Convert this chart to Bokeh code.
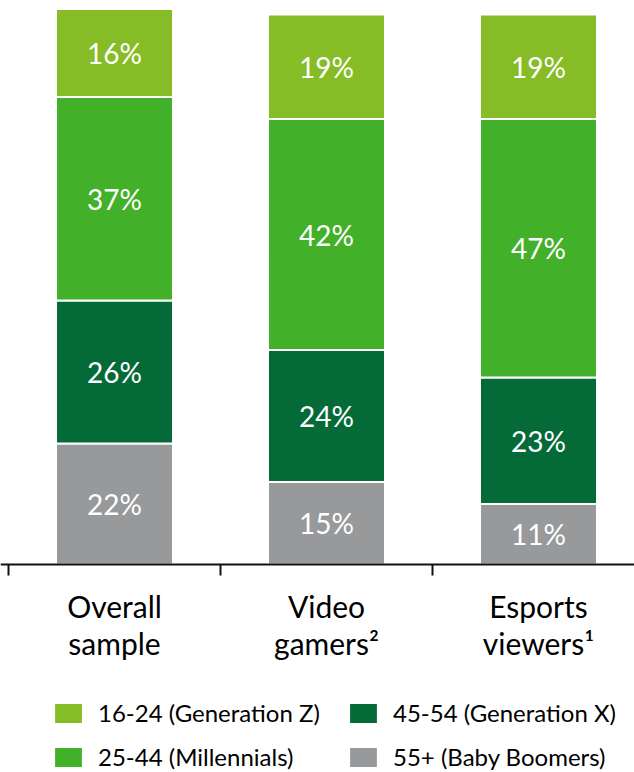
from bokeh.plotting import figure
from bokeh.models import ColumnDataSource, Range1d, FixedTicker, Legend, LegendItem, LinearAxis
from bokeh.embed import file_html
from bokeh.resources import INLINE
from bokeh.core.properties import value

# ---- data ----
categories = ["Overall\nsample", "Video\ngamers²", "Esports\nviewers¹"]
genz = [16, 19, 19]
millennials = [37, 42, 47]
genx = [26, 24, 23]
boomers = [22, 15, 11]
series_labels = ["16-24 (Generation Z)", "25-44 (Millennials)",
                 "45-54 (Generation X)", "55+ (Baby Boomers)"]

# ---- style ----
FONT = "Lato"
C_GENZ = "#86BC25"
C_MILL = "#43B02A"
C_GENX = "#046A38"
C_BOOM = "#97999B"

x = [0.5, 1.5, 2.5]

PX = 5.5          # pixels per percentage point
BASE = 564        # pixel row of the zero line
p = figure(width=634, height=772,
           x_range=Range1d(-8 / 212, 626 / 212),
           y_range=Range1d(-(772 - BASE) / PX, BASE / PX),
           output_backend="svg", toolbar_location=None,
           x_axis_location=None, y_axis_location=None,
           min_border=0)
p.outline_line_color = None
p.xgrid.visible = False
p.ygrid.visible = False

src = ColumnDataSource(dict(x=x, boomers=boomers, genx=genx,
                            millennials=millennials, genz=genz))
keys = ["boomers", "genx", "millennials", "genz"]
rs = p.vbar_stack(keys, x="x", width=0.552, source=src,
                  fill_color=[C_BOOM, C_GENX, C_MILL, C_GENZ],
                  line_color="white", line_width=2)

# percentage labels
lx, ly, lt = [], [], []
series = [boomers, genx, millennials, genz]
for i in range(len(x)):
    bottom = 0
    for s in series:
        v = s[i]
        lx.append(x[i])
        ly.append(bottom + v / 2)
        lt.append(f"{v}%")
        bottom += v
p.text(x=lx, y=ly, text=lt, text_align="center", text_baseline="middle",
       text_color="white", text_font=value(FONT), text_font_size="28px")

# category axis, pinned at zero
ax = LinearAxis(ticker=FixedTicker(ticks=x, minor_ticks=[0, 1, 2, 3]),
                major_label_overrides={x[i]: categories[i] for i in range(3)},
                fixed_location=0)
ax.major_tick_in = 0
ax.major_tick_out = 0
ax.minor_tick_in = 0
ax.minor_tick_out = 11
ax.axis_line_color = "#111111"
ax.axis_line_width = 2
ax.minor_tick_line_color = "#111111"
ax.minor_tick_line_width = 2
ax.major_label_text_font = FONT
ax.major_label_text_font_size = "30px"
ax.major_label_text_color = "#000000"
ax.major_label_text_line_height = 1.05
ax.major_label_standoff = 12
p.add_layout(ax, "below")

def make_legend(items, loc):
    lg = Legend(items=items, location=loc)
    lg.background_fill_alpha = 0
    lg.border_line_alpha = 0
    lg.padding = 0
    lg.margin = 0
    lg.glyph_width = 36
    lg.glyph_height = 26
    lg.label_height = 26
    lg.label_standoff = 12
    lg.spacing = 15
    lg.label_text_font = FONT
    lg.label_text_font_size = "24px"
    lg.label_text_color = "#000000"
    return lg

leg1 = make_legend([LegendItem(label=series_labels[0], renderers=[rs[3]]),
                    LegendItem(label=series_labels[1], renderers=[rs[2]])],
                   (50, 1))
leg2 = make_legend([LegendItem(label=series_labels[2], renderers=[rs[1]]),
                    LegendItem(label=series_labels[3], renderers=[rs[0]])],
                   (345, 1))
p.add_layout(leg1)
p.add_layout(leg2)

open("out.html", "w").write(file_html(p, INLINE))
